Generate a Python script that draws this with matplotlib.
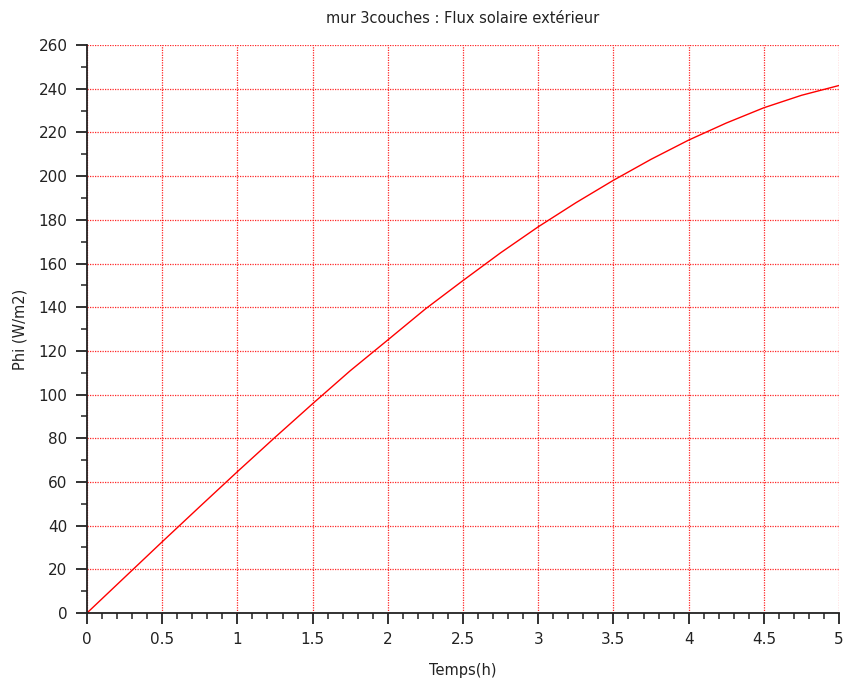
import matplotlib
matplotlib.use("Agg")
import matplotlib.pyplot as plt
from matplotlib.ticker import MultipleLocator

# Data
temps_h = [0, 0.25, 0.5, 0.75, 1.0, 1.25, 1.5, 1.75, 2.0, 2.25, 2.5,
           2.75, 3.0, 3.25, 3.5, 3.75, 4.0, 4.25, 4.5, 4.75, 5.0]
phi_wm2 = [0, 16.3, 32.6, 48.7, 64.7, 80.4, 95.8, 110.9, 125.0, 139.2, 152.2,
           164.9, 176.8, 187.8, 198.1, 207.7, 216.5, 224.3, 231.3, 237.0, 241.5]
x_ticks = [0, 0.5, 1, 1.5, 2, 2.5, 3, 3.5, 4, 4.5, 5]
y_ticks = list(range(0, 261, 20))
title = "mur 3couches : Flux solaire extérieur"
xlabel = "Temps(h)"
ylabel = "Phi (W/m2)"

plt.rcParams['font.family'] = ['DejaVu Sans']

fig = plt.figure(figsize=(8.47, 6.83), dpi=100)
ax = fig.add_axes([0.1027, 0.1025, 0.9906 - 0.1027, 0.934 - 0.1025])

ax.plot(temps_h, phi_wm2, color='#ff0000', linewidth=1.0)

ax.set_xlim(0, 5)
ax.set_ylim(0, 260)
ax.set_xticks(x_ticks)
ax.set_xticklabels([('%g' % v) for v in x_ticks])
ax.set_yticks(y_ticks)
ax.xaxis.set_minor_locator(MultipleLocator(0.1))
ax.yaxis.set_minor_locator(MultipleLocator(10))

ax.grid(True, which='major', color='#ff0000', linestyle=(0, (1, 1)), linewidth=0.9, alpha=0.85)

for s in ['top', 'right']:
    ax.spines[s].set_visible(False)
for s in ['left', 'bottom']:
    ax.spines[s].set_linewidth(1.3)
    ax.spines[s].set_color('#222222')

ax.tick_params(axis='both', which='major', direction='out', length=8, width=1.3,
               labelsize=11, colors='#222222', pad=6)
ax.tick_params(axis='both', which='minor', direction='out', length=4, width=1.1,
               colors='#222222')

ax.set_title(title, fontsize=10.5, pad=16, color='#222222')
ax.set_xlabel(xlabel, fontsize=10.5, labelpad=11, color='#222222')
ax.set_ylabel(ylabel, fontsize=10.5, labelpad=8, color='#222222')

fig.savefig("out.png", dpi=100)
